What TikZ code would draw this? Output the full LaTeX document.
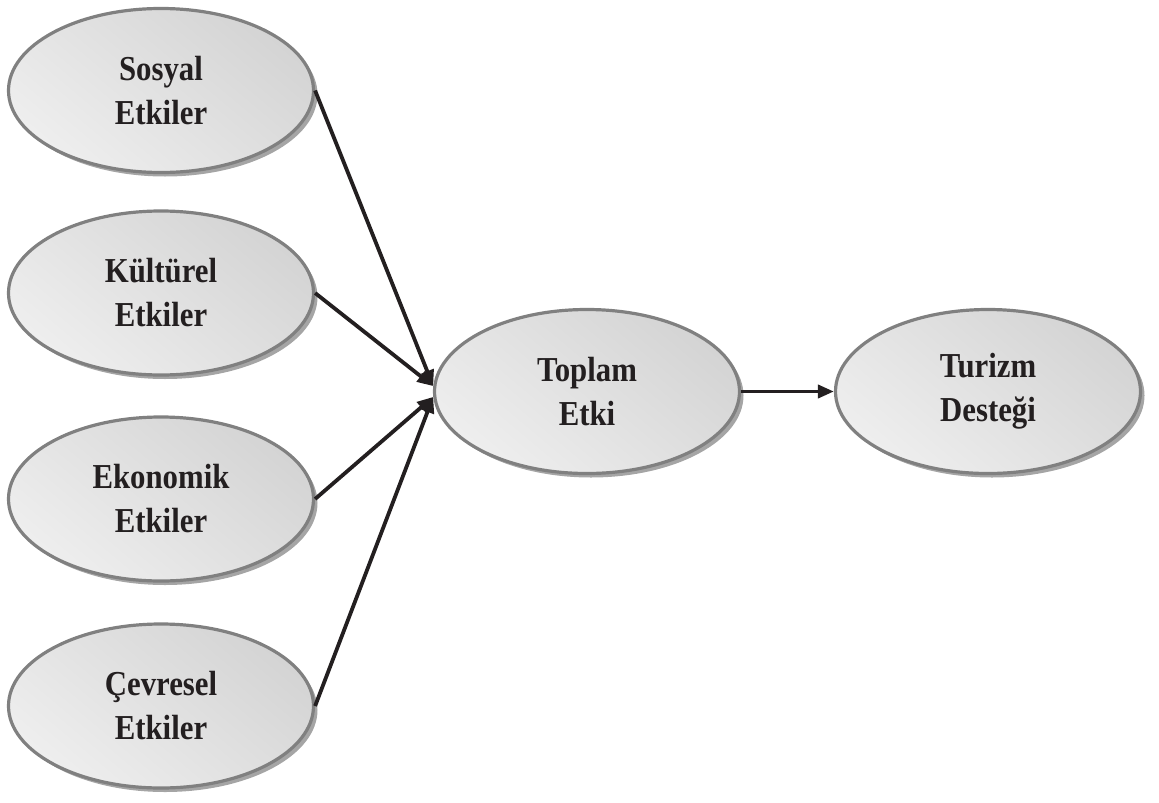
\documentclass[tikz,border=0pt]{standalone}
\usepackage{fontspec}
\setmainfont{Liberation Serif}
\newfontfamily\lblfont[FakeStretch=0.88]{Liberation Serif}
\usetikzlibrary{shapes.geometric,shadows,arrows.meta}
\definecolor{outl}{RGB}{128,128,128}
\definecolor{shad}{RGB}{165,165,165}
\definecolor{fdark}{RGB}{212,212,212}
\definecolor{flight}{RGB}{238,238,238}
\definecolor{ink}{RGB}{35,31,32}
\begin{document}
\begin{tikzpicture}[x=1pt,y=-1pt,
  bub/.style={ellipse, draw=outl, line width=3.2pt,
    minimum width=305pt, minimum height=164pt, inner sep=0pt,
    top color=fdark, middle color=white, bottom color=flight,
    shading angle=-40, text=ink,
    drop shadow={shadow xshift=4pt, shadow yshift=-4pt, fill=shad, opacity=1},
    font=\lblfont\fontsize{35}{44}\selectfont\bfseries, align=center},
  arr/.style={line width=3.8pt, draw=ink, -{Triangle[length=16pt,width=13pt,fill=ink]}}]
\useasboundingbox (0,0) rectangle (1159,803);
\node[bub] (sos) at (161,90.5) {Sosyal\\Etkiler};
\node[bub] (kul) at (161,293) {Kültürel\\Etkiler};
\node[bub] (eko) at (161,499) {Ekonomik\\Etkiler};
\node[bub] (cev) at (161,706) {Çevresel\\Etkiler};
\node[bub] (top) at (587,391.5) {Toplam\\Etki};
\node[bub] (tur) at (988,391.5) {Turizm\\Desteği};
\draw[arr] (sos.east) -- (top.178);
\draw[arr] (kul.east) -- (top.178);
\draw[arr] (eko.east) -- (top.182);
\draw[arr] (cev.east) -- (top.182);
\draw[arr] (top.east) -- (tur.west);
\end{tikzpicture}
\end{document}
